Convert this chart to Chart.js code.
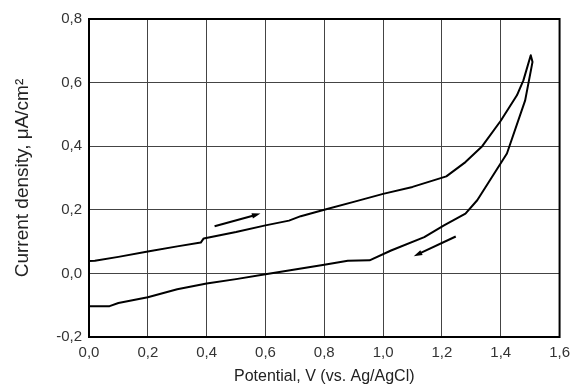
<!DOCTYPE html>
<html>
<head>
<meta charset="utf-8">
<script src="https://cdn.jsdelivr.net/npm/chart.js@4.4.0/dist/chart.umd.min.js"></script>
<style>
  html, body { margin: 0; padding: 0; background: #fff; }
  .chart-container { position: relative; width: 577px; height: 390px; }
</style>
</head>
<body>
<div class="chart-container"><canvas id="cvChart" width="577" height="390"></canvas></div>
<script>
// forward scan (upper branch) then reverse scan (lower branch)
const potential = [0.00, 0.02, 0.10, 0.20, 0.30, 0.38, 0.39, 0.50, 0.60, 0.68, 0.72, 0.80, 0.90, 1.00, 1.10, 1.215, 1.28, 1.337, 1.40, 1.455, 1.477, 1.502,
                   1.508, 1.483, 1.421, 1.32, 1.28, 1.207, 1.14, 1.027, 0.954, 0.88, 0.80, 0.70, 0.60, 0.50, 0.40, 0.30, 0.20, 0.10, 0.07, 0.00];
const current = [0.039, 0.040, 0.052, 0.069, 0.085, 0.097, 0.110, 0.130, 0.151, 0.166, 0.180, 0.200, 0.225, 0.250, 0.272, 0.305, 0.350, 0.400, 0.480, 0.560, 0.607, 0.686,
                 0.665, 0.544, 0.377, 0.230, 0.188, 0.151, 0.114, 0.072, 0.041, 0.040, 0.027, 0.012, -0.003, -0.018, -0.032, -0.050, -0.075, -0.093, -0.103, -0.103];

// scan direction arrows: [x0, y0, x1, y1]
const arrows = [
    [0.427, 0.148, 0.583, 0.188],
    [1.247, 0.116, 1.104, 0.054]
];

const xTicks = [0, 0.2, 0.4, 0.6, 0.8, 1.0, 1.2, 1.4, 1.6];
const yTicks = [-0.2, 0, 0.2, 0.4, 0.6, 0.8];

const fmt = v => v.toFixed(1).replace('.', ',');
const fontFam = 'Liberation Sans, Arial, sans-serif';

const frameAndArrows = {
    id: 'frameAndArrows',
    afterDatasetsDraw(chart) {
        const { ctx, chartArea: a, scales: { x, y } } = chart;
        ctx.save();
        ctx.strokeStyle = '#000';
        ctx.lineWidth = 2;
        ctx.strokeRect(a.left, a.top, a.right - a.left, a.bottom - a.top);

        ctx.fillStyle = '#000';
        arrows.forEach(([x0, y0, x1, y1]) => {
            const px0 = x.getPixelForValue(x0), py0 = y.getPixelForValue(y0);
            const px1 = x.getPixelForValue(x1), py1 = y.getPixelForValue(y1);
            const ang = Math.atan2(py1 - py0, px1 - px0);
            ctx.beginPath();
            ctx.moveTo(px0, py0);
            ctx.lineTo(px1 - 6 * Math.cos(ang), py1 - 6 * Math.sin(ang));
            ctx.stroke();
            ctx.beginPath();
            ctx.moveTo(px1, py1);
            ctx.lineTo(px1 - 9 * Math.cos(ang - 0.3), py1 - 9 * Math.sin(ang - 0.3));
            ctx.lineTo(px1 - 9 * Math.cos(ang + 0.3), py1 - 9 * Math.sin(ang + 0.3));
            ctx.closePath();
            ctx.fill();
        });
        ctx.restore();
    }
};

const ctx = document.getElementById('cvChart').getContext('2d');
new Chart(ctx, {
    type: 'scatter',
    data: {
        datasets: [{
            data: potential.map((v, i) => ({ x: v, y: current[i] })),
            showLine: true,
            borderColor: '#000',
            borderWidth: 2,
            borderJoinStyle: 'round',
            pointRadius: 0,
            tension: 0,
            fill: false
        }]
    },
    options: {
        responsive: false,
        animation: false,
        layout: { padding: { top: 19, right: 12, left: 0, bottom: 0 } },
        plugins: { legend: { display: false }, tooltip: { enabled: false } },
        scales: {
            x: {
                type: 'linear',
                min: 0, max: 1.6,
                afterBuildTicks: axis => { axis.ticks = xTicks.map(v => ({ value: v })); },
                afterFit: axis => { axis.height = 53; },
                grid: { color: '#444', lineWidth: 1, drawTicks: false },
                border: { color: '#000', width: 2 },
                ticks: {
                    callback: v => fmt(v),
                    color: '#333',
                    padding: 7,
                    font: { family: fontFam, size: 15 }
                },
                title: {
                    display: true,
                    text: 'Potential, V (vs. Ag/AgCl)',
                    color: '#222',
                    padding: { top: 6, bottom: 4 },
                    font: { family: fontFam, size: 16 }
                }
            },
            y: {
                type: 'linear',
                min: -0.2, max: 0.8,
                afterBuildTicks: axis => { axis.ticks = yTicks.map(v => ({ value: v })); },
                afterFit: axis => { axis.width = 89; },
                grid: { color: '#444', lineWidth: 1, drawTicks: false },
                border: { color: '#000', width: 2 },
                ticks: {
                    callback: v => fmt(v),
                    color: '#333',
                    padding: 7,
                    font: { family: fontFam, size: 15 }
                },
                title: {
                    display: true,
                    text: 'Current density, μA/cm²',
                    color: '#222',
                    padding: { top: 11, bottom: 6 },
                    font: { family: fontFam, size: 19 }
                }
            }
        }
    },
    plugins: [frameAndArrows]
});
</script>
</body>
</html>
